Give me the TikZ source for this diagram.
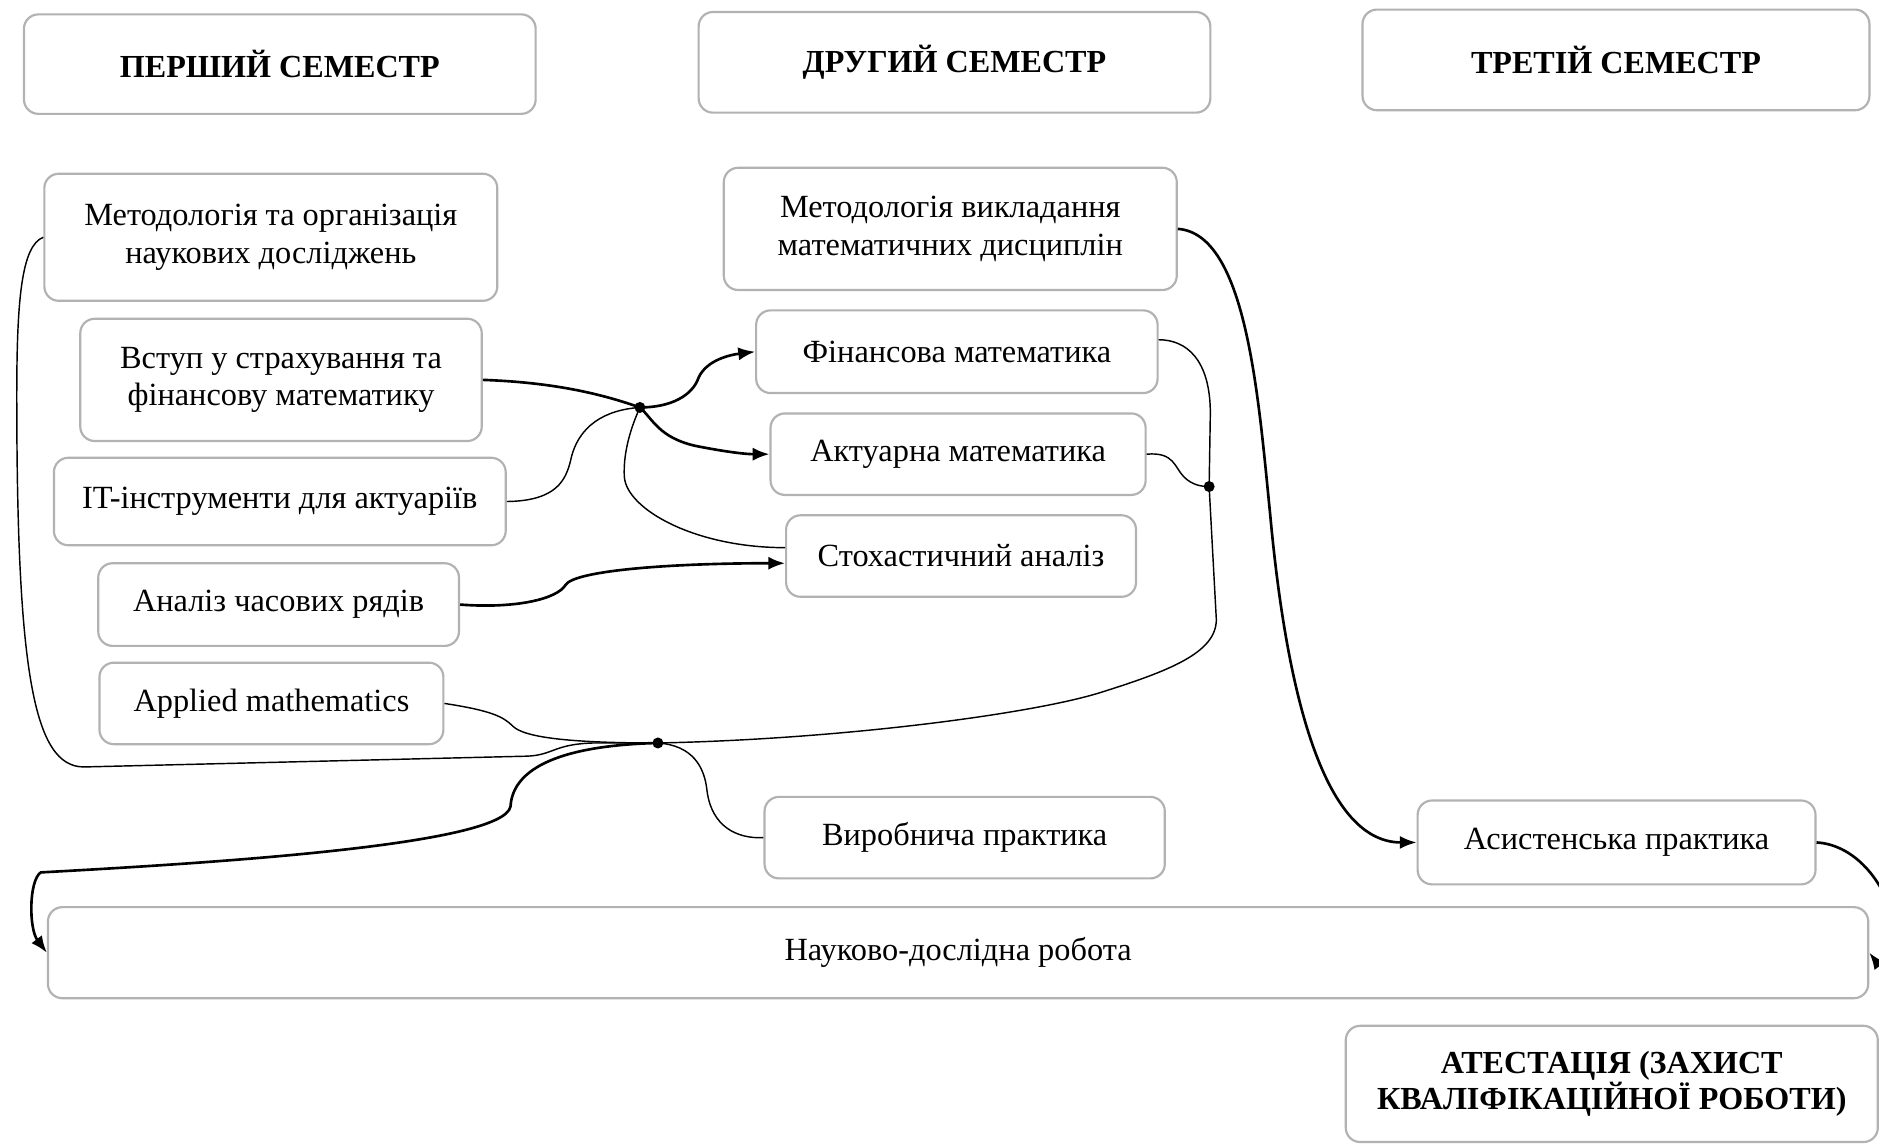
\documentclass[tikz,border=0pt]{standalone}
\usepackage{fontspec}
\setmainfont{Liberation Serif}
\usetikzlibrary{arrows.meta,calc}
\begin{document}
\begin{tikzpicture}[x=0.5pt,y=-0.5pt,
 box/.style={draw=gray!60,line width=0.9pt,rounded corners=6pt,fill=white,align=center,inner sep=0pt,font=\fontsize{13.5}{15.5}\selectfont},
 hbox/.style={box,font=\bfseries\fontsize{13.4}{15}\selectfont},
 thinln/.style={line width=0.6pt},
 thickln/.style={line width=1.1pt},
 arr/.style={thickln,-{Latex[length=7pt,width=5.5pt]}},
 jdot/.style={circle,fill=black,inner sep=0pt,minimum size=4.6pt}]
\useasboundingbox (0,0) rectangle (1568,954);
\fill[white] (0,0) rectangle (1568,954);
\begin{scope}
\clip (0,0) rectangle (1568,954);
% headers
\node[hbox,minimum width=213.5pt,minimum height=41.5pt] (H1) at (233.5,53.5) {ПЕРШИЙ СЕМЕСТР};
\node[hbox,minimum width=213.5pt,minimum height=42pt] (H2) at (796.5,52) {ДРУГИЙ СЕМЕСТР};
\node[hbox,minimum width=211.5pt,minimum height=42pt] (H3) at (1348.5,50) {ТРЕТІЙ СЕМЕСТР};
% first column
\node[box,minimum width=189pt,minimum height=53pt] (M1) at (226,198) {Методологія та організація\\наукових досліджень};
\node[box,minimum width=167.5pt,minimum height=51pt] (M2) at (234.5,317) {Вступ у страхування та\\фінансову математику};
\node[box,minimum width=188.5pt,minimum height=36.5pt] (M3) at (233.5,418.5) {IT-інструменти для актуаріїв};
\node[box,minimum width=150.5pt,minimum height=34.5pt] (M4) at (232.5,504.5) {Аналіз часових рядів};
\node[box,minimum width=143.5pt,minimum height=34pt] (M5) at (226.5,587) {Applied mathematics};
% second column
\node[box,minimum width=189pt,minimum height=51pt] (N1) at (793,191) {Методологія викладання\\математичних дисциплін};
\node[box,minimum width=167.5pt,minimum height=34.5pt] (N2) at (798.5,293.5) {Фінансова математика};
\node[box,minimum width=156.5pt,minimum height=34pt] (N3) at (799.5,379) {Актуарна математика};
\node[box,minimum width=146pt,minimum height=34pt] (N4) at (802,464) {Стохастичний аналіз};
\node[box,minimum width=167pt,minimum height=34pt] (N5) at (805,699) {Виробнича практика};
% third column
\node[box,minimum width=166pt,minimum height=35pt] (R1) at (1349,703) {Асистенська практика};
\node[box,minimum width=759.5pt,minimum height=38pt] (BIG) at (799.5,795) {Науково-дослідна робота};
\node[hbox,minimum width=222pt,minimum height=48.5pt,font=\bfseries\fontsize{13.4}{15}\selectfont] (FIN) at (1345,904.5) {АТЕСТАЦІЯ (ЗАХИСТ\\КВАЛІФІКАЦІЙНОЇ РОБОТИ)};
% junctions
\node[jdot] (J1) at (534,340) {};
\node[jdot] (J2) at (549,620) {};
\node[jdot] (J3) at (1009,406) {};
% connectors
\draw[thinln] (M1.west) .. controls (18,205) and (14,250) .. (14,330) .. controls (14,560) and (28,640) .. (70,640) -- (440,631) .. controls (462,630) and (462,621) .. (495,620) -- (J2.center);
\draw[thinln] (M5.east) .. controls (410,593) and (420,598) .. (428,606) .. controls (438,616) and (480,620) .. (J2.center);
\draw[thinln] (J2.center) .. controls (578,622) and (588,640) .. (590,660) .. controls (594,690) and (615,700) .. (N5.west);
\draw[arr] (J2.center) .. controls (470,622) and (428,640) .. (426,673) .. controls (420,705) and (180,720) .. (34,728) .. controls (24,735) and (24,775) .. (BIG.west);
\draw[thinln] (J2.center) .. controls (700,617) and (860,596) .. (918,578) .. controls (975,560) and (1015,545) .. (1015,517) -- (J3.center);
\draw[thinln] (J3.center) -- (1010,345) .. controls (1010,300) and (990,283.5) .. ($(N2.east)+(0,-10)$);
\draw[thinln] (N3.east) .. controls (980,377) and (980,390) .. (988,398) .. controls (995,405) and (1003,406) .. (J3.center);
\draw[thickln] (M2.east) .. controls (460,319) and (500,328) .. (J1.center);
\draw[arr] (J1.center) .. controls (560,340) and (578,330) .. (583,315) .. controls (590,300) and (610,296) .. (N2.west);
\draw[arr] (J1.center) .. controls (545,350) and (550,365) .. (580,372) .. controls (600,376) and (620,379) .. (N3.west);
\draw[thinln] (M3.east) .. controls (465,418) and (472,400) .. (476,385) .. controls (482,355) and (505,342) .. (J1.center);
\draw[thinln] (J1.center) .. controls (525,360) and (520,380) .. (521,398) .. controls (523,425) and (580,457) .. ($(N4.west)+(0,-7)$);
\draw[arr] (M4.east) .. controls (430,508) and (465,500) .. (472,488) .. controls (480,476) and (560,470) .. ($(N4.west)+(0,6)$);
\draw[arr] (N1.east) .. controls (1040,195) and (1050,330) .. (1060,430) .. controls (1072,560) and (1100,703) .. (R1.west);
\draw[arr] (R1.east) .. controls (1550,705) and (1575,740) .. (1580,770) .. controls (1584,800) and (1570,808) .. (BIG.east);
\end{scope}
\end{tikzpicture}
\end{document}
